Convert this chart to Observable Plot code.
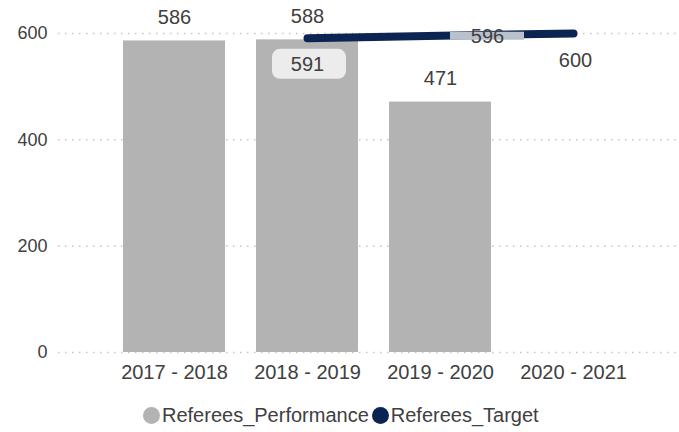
<!DOCTYPE html>
<html>
<head>
<meta charset="utf-8">
<script src="https://cdn.jsdelivr.net/npm/d3@7"></script>
<script src="https://cdn.jsdelivr.net/npm/@observablehq/plot@0.6"></script>
<style>
  body { margin: 0; background: #fff; font-family: "Liberation Sans", Arial, sans-serif; }
  #legend { display: flex; align-items: center; margin-left: 143px; margin-top: 14px; font-size: 20px; color: #404040; }
  .sw { width: 17px; height: 17px; border-radius: 50%; display: inline-block; margin-right: 2px; }
  .item { display: flex; align-items: center; margin-right: 3px; }
</style>
</head>
<body>
<div id="chart"></div>
<div id="legend"></div>
<script>
const categories = ["2017 - 2018", "2018 - 2019", "2019 - 2020", "2020 - 2021"];
const performance = [586, 588, 471, null];
const targetCategories = ["2018 - 2019", "2019 - 2020", "2020 - 2021"];
const target = [591, 596, 600];
const yTicks = [0, 200, 400, 600];
const seriesNames = ["Referees_Performance", "Referees_Target"];
const seriesColors = ["#b3b3b3", "#0c2452"];

const perf = categories.map((c, i) => ({cat: c, v: performance[i]})).filter(d => d.v != null);
const tgt = targetCategories.map((c, i) => ({cat: c, v: target[i]}));
const tgtAt = c => tgt.filter(d => d.cat === c);

const chart = Plot.plot({
  width: 679,
  height: 390,
  marginLeft: 58,
  marginRight: 0,
  marginTop: 33,
  marginBottom: 38,
  style: {fontFamily: "Liberation Sans, Arial, sans-serif", fontSize: "20px", color: "#404040", background: "white"},
  x: {domain: categories, range: [121, 626], paddingInner: 0.23, paddingOuter: 0, label: null},
  y: {domain: [0, 600], label: null},
  marks: [
    Plot.ruleY(yTicks, {stroke: "#c4c4c4", strokeWidth: 1.5, strokeDasharray: "1.5,5.5"}),
    Plot.axisY({ticks: yTicks, tickSize: 0, tickPadding: 11, fontSize: 18, label: null}),
    Plot.axisX({tickSize: 0, tickPadding: 12, label: null}),
    Plot.barY(perf, {x: "cat", y: "v", fill: seriesColors[0]}),
    Plot.text(perf, {x: "cat", y: "v", text: d => String(d.v), dy: -23, fill: "#404040"}),
    Plot.lineY(tgt, {x: "cat", y: "v", stroke: seriesColors[1], strokeWidth: 8, strokeLinecap: "round"}),
    Plot.tickY(tgtAt("2019 - 2020"), {x: "cat", y: "v", stroke: "#b9c1cd", strokeWidth: 8, dx: 47, insetLeft: 14, insetRight: 14}),
    Plot.text(tgtAt("2019 - 2020"), {x: "cat", y: "v", text: d => String(d.v), dx: 47, dy: 1, fill: "#404040"}),
    Plot.barY(tgtAt("2018 - 2019"), {x: "cat", y1: "v", y2: "v", dy: 26, insetTop: -15, insetBottom: -15, insetLeft: 16, insetRight: 12, rx: 8, fill: "#ececec"}),
    Plot.text(tgtAt("2018 - 2019"), {x: "cat", y: "v", text: d => String(d.v), dy: 26, fill: "#404040"}),
    Plot.text(tgtAt("2020 - 2021"), {x: "cat", y: "v", text: d => String(d.v), dy: 27, dx: 2, fill: "#404040"})
  ]
});
document.getElementById("chart").appendChild(chart);

const legend = document.getElementById("legend");
seriesNames.forEach((n, i) => {
  const it = document.createElement("div");
  it.className = "item";
  it.innerHTML = `<span class="sw" style="background:${seriesColors[i]}"></span><span>${n}</span>`;
  legend.appendChild(it);
});
</script>
</body>
</html>
